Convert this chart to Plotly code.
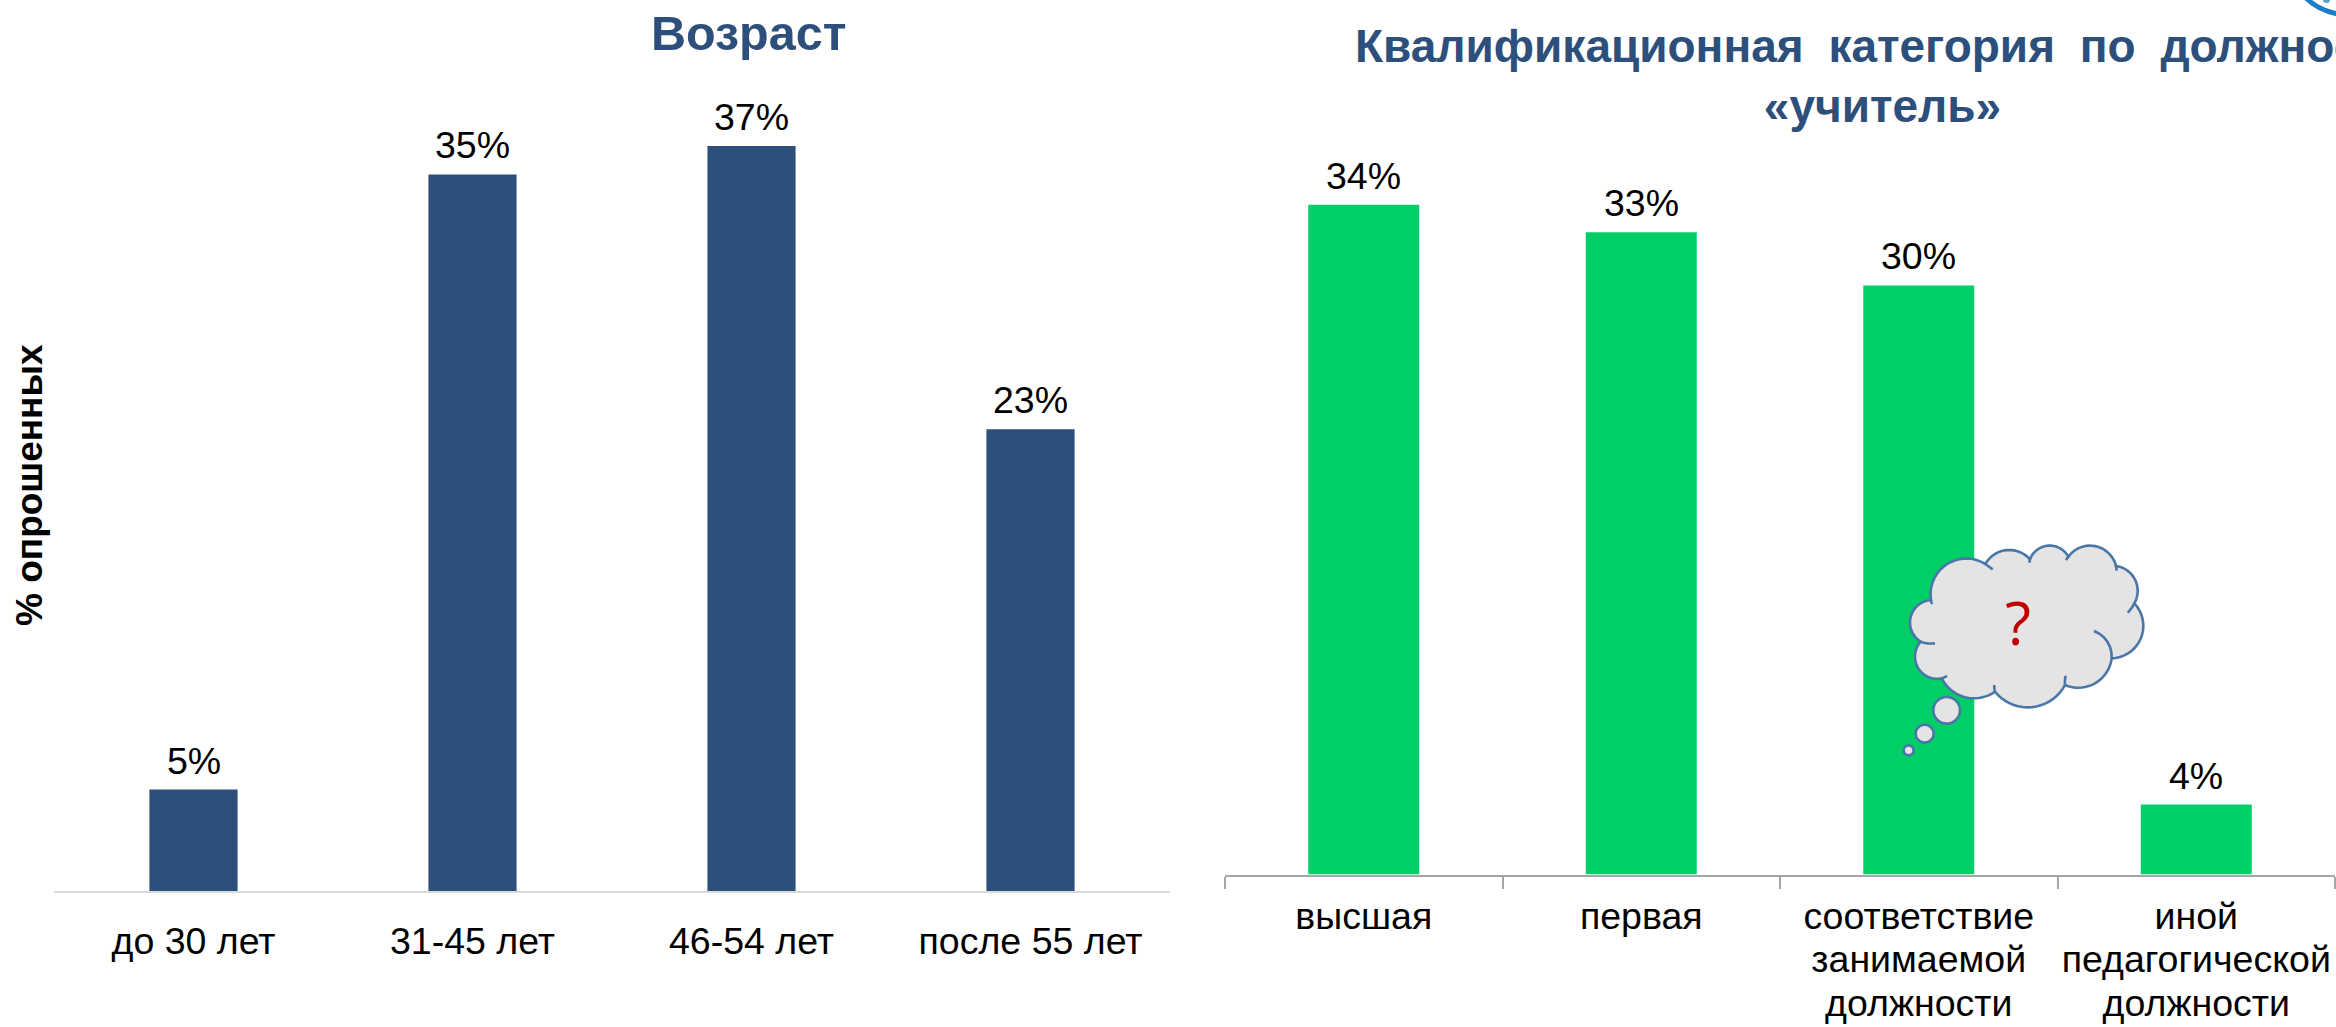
import math
import plotly.graph_objects as go

W, H = 2336, 1027

age_categories = ["до 30 лет", "31-45 лет", "46-54 лет", "после 55 лет"]
age_values = [5.0, 35.3, 36.7, 22.75]
age_labels = ["5%", "35%", "37%", "23%"]

qual_categories = ["высшая", "первая", "соответствие<br>занимаемой<br>должности", "иной<br>педагогической<br>должности"]
qual_values = [34.0, 32.6, 29.9, 3.55]
qual_labels = ["34%", "33%", "30%", "4%"]

TITLE_BLUE = "#2c4f7c"
BAR_BLUE = "#2c4f7c"
BAR_GREEN = "#00cf68"
FONT = "Liberation Sans"
TS = 37.5


def px(x):
    return x / W


def py(y):
    return 1 - y / H


fig = go.Figure()
fig.add_bar(x=age_categories, y=age_values, marker_color=BAR_BLUE, xaxis="x", yaxis="y", cliponaxis=False)
fig.add_bar(x=qual_categories, y=qual_values, marker_color=BAR_GREEN, xaxis="x2", yaxis="y2", cliponaxis=False)
fig.update_traces(marker_line_width=0)
fig.data[0].width = 0.316
fig.data[1].width = 0.4

# --- cloud decoration, described in the coordinates of the reference crop
ZX, ZY = 1800, 500


def zx(v):
    return ZX + v / 3


def zy(v):
    return ZY + v / 3


def arc(p0, p1, p2, n=18):
    (ax, ay), (bx, by), (cx, cy) = p0, p1, p2
    d = 2 * (ax * (by - cy) + bx * (cy - ay) + cx * (ay - by))
    if abs(d) < 1e-6:
        return [p0, p2]
    ux = ((ax**2 + ay**2) * (by - cy) + (bx**2 + by**2) * (cy - ay) + (cx**2 + cy**2) * (ay - by)) / d
    uy = ((ax**2 + ay**2) * (cx - bx) + (bx**2 + by**2) * (ax - cx) + (cx**2 + cy**2) * (bx - ax)) / d
    r = math.hypot(ax - ux, ay - uy)
    a0 = math.atan2(ay - uy, ax - ux)
    a1 = math.atan2(by - uy, bx - ux)
    a2 = math.atan2(cy - uy, cx - ux)
    d1 = (a1 - a0) % (2 * math.pi)
    d2 = (a2 - a0) % (2 * math.pi)
    if d1 > d2:
        d2 -= 2 * math.pi
    return [(ux + r * math.cos(a0 + d2 * i / n), uy + r * math.sin(a0 + d2 * i / n)) for i in range(n + 1)]


def path(points, close=False):
    s = "M" + " L".join(f"{px(zx(x)):.5f},{py(zy(y)):.5f}" for x, y in points)
    return s + (" Z" if close else "")


lobes = [
    ((393, 300), (425, 205), (556, 192)),
    ((556, 192), (625, 150), (690, 178)),
    ((690, 178), (755, 137), (805, 170)),
    ((805, 170), (875, 137), (948, 198)),
    ((948, 198), (1013, 270), (1003, 310)),
    ((1003, 310), (1030, 375), (935, 475)),
    ((935, 475), (905, 535), (795, 555)),
    ((795, 555), (690, 622), (585, 575)),
    ((585, 575), (520, 595), (425, 535)),
    ((425, 535), (345, 475), (362, 425)),
    ((362, 425), (330, 365), (393, 300)),
]
tails = [
    ((556, 192), (567, 200), (578, 208)),
    ((690, 178), (689, 183), (688, 188)),
    ((805, 170), (801, 175), (798, 180)),
    ((948, 198), (949, 205), (950, 212)),
    ((1003, 310), (994, 325), (983, 338)),
    ((935, 475), (925, 430), (882, 393)),
    ((795, 555), (795, 540), (797, 527)),
    ((585, 575), (583, 565), (583, 555)),
    ((425, 535), (433, 532), (441, 528)),
    ((362, 425), (383, 430), (405, 430)),
    ((393, 300), (394, 306), (397, 312)),
]
bubbles = [(440, 631, 40), (374, 701, 27), (326, 751, 15)]
CL = "#4a76a8"
CF = "#e4e4e4"
LW = 2.6
outline = []
for l in lobes:
    outline += arc(*l)
shapes = [dict(type="path", path=path(outline, True), xref="paper", yref="paper", layer="above",
               fillcolor=CF, line=dict(color=CL, width=LW))]
for t in tails:
    shapes.append(dict(type="path", path=path(arc(*t, n=6)), xref="paper", yref="paper", layer="above",
                       line=dict(color=CL, width=LW)))
for cx, cy, r in bubbles:
    shapes.append(dict(type="circle", xref="paper", yref="paper", layer="above",
                       x0=px(zx(cx - r)), x1=px(zx(cx + r)), y0=py(zy(cy + r)), y1=py(zy(cy - r)),
                       fillcolor=CF, line=dict(color=CL, width=LW)))

# fragment of the logo cut off by the top right corner
shapes.append(dict(type="path", xref="paper", yref="paper", layer="above",
                   path=f"M{px(2306)},{py(-2)} Q{px(2318)},{py(10)} {px(2338)},{py(14)}",
                   line=dict(color="#1a7fc6", width=5)))
shapes.append(dict(type="circle", xref="paper", yref="paper", layer="above",
                   x0=px(2323), x1=px(2330), y0=py(3), y1=py(-3), fillcolor="#5aa0d5", line=dict(width=0)))

annotations = [
    dict(text="<b>Возраст</b>", x=px(748), y=py(33), font=dict(size=48.5, color=TITLE_BLUE, family=FONT)),
    dict(text='<b><span style="word-spacing:12px">Квалификационная категория по должности</span><br>«учитель»</b>',
         x=px(1882), y=py(76), font=dict(size=46, color=TITLE_BLUE, family=FONT), align="center"),
    dict(text="<b>% опрошенных</b>", x=px(29), y=py(485), textangle=-90,
         font=dict(size=37, color="#000000", family=FONT)),
    dict(text="?", x=px(zx(655)), y=py(zy(365)), font=dict(size=60, color="#c00000", family="Open Sans")),
]
for a in annotations:
    a.update(xref="paper", yref="paper", showarrow=False, xanchor="center", yanchor="middle")

# data labels, anchored to the bars through the axes
for xa, ya, cats, vals, labels in [("x", "y", age_categories, age_values, age_labels),
                                   ("x2", "y2", qual_categories, qual_values, qual_labels)]:
    for c, v, t in zip(cats, vals, labels):
        annotations.append(dict(text=t, x=c, y=v, xref=xa, yref=ya, showarrow=False, xanchor="center",
                                yanchor="bottom", yshift=6, font=dict(size=TS, color="#000000", family=FONT)))

# tick labels: line distance follows the base font, glyphs the inner size
LINE_BASE = 33.5
qual_ticktext = ["<br>".join(f'<span style="font-size:{TS}px">{p}</span>' for p in c.split("<br>"))
                 for c in qual_categories]

fig.update_layout(
    width=W, height=H, margin=dict(l=0, r=0, t=0, b=0), showlegend=False,
    plot_bgcolor="white", paper_bgcolor="white", font=dict(family=FONT, color="#000000"),
    shapes=shapes, annotations=annotations,
    xaxis=dict(domain=[54 / W, 1170 / W], anchor="y", showgrid=False, ticks="", showline=True, automargin=False,
               tickangle=0, linecolor="#d9d9d9", linewidth=2, tickfont=dict(size=TS, family=FONT, color="#000000"),
               ticklabelstandoff=16),
    yaxis=dict(domain=[1 - 891 / H, 1], range=[0, 891 / 20.3], visible=False, anchor="x", automargin=False),
    xaxis2=dict(domain=[1225 / W, 2335 / W], anchor="y2", showgrid=False, ticks="outside", ticklen=12,
                automargin=False, tickangle=0,
                tickcolor="#a6a6a6", tickwidth=2, tickson="boundaries", showline=True, linecolor="#a6a6a6",
                linewidth=2, tickfont=dict(size=LINE_BASE, family=FONT, color="#000000"),
                tickmode="array", tickvals=qual_categories, ticktext=qual_ticktext, ticklabelstandoff=12),
    yaxis2=dict(domain=[1 - 874.5 / H, 1], range=[0, 874.5 / 19.7], visible=False, anchor="x2", automargin=False),
)

fig.write_html("out.html", config=dict(displayModeBar=False),
               post_script="document.body.style.margin='0';document.body.style.overflow='hidden';")
